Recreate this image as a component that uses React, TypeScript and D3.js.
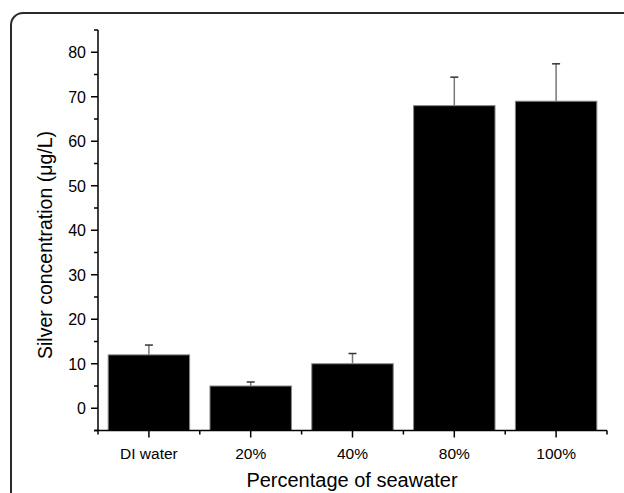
import React from "react";
import * as d3 from "d3";

const categories = ["DI water", "20%", "40%", "80%", "100%"];
const values = [12, 5, 10, 68, 69];
const errors = [2.2, 0.9, 2.3, 6.4, 8.4];
const yTicks = [0, 10, 20, 30, 40, 50, 60, 70, 80];
const yMinorTicks = [-5, 5, 15, 25, 35, 45, 55, 65, 75, 85];

export default function App() {
  const W = 624, H = 493;
  const left = 98, right = 607, top = 30, bottom = 430.5;
  const x = d3.scaleBand<string>().domain(categories).range([left, right]).paddingInner(0.2).paddingOuter(0.1);
  const y = d3.scaleLinear().domain([-5, 85]).range([bottom, top]);
  const font = "Liberation Sans, Arial, sans-serif";
  const boundaries = categories.map((c) => (x(c) as number) - x.step() * x.paddingInner() / 2);
  boundaries.push(right);
  return (
    <svg width={W} height={H} style={{ position: "absolute", left: 0, top: 0 }}>
      <rect x={0} y={0} width={W} height={H} fill="#fff" />
      <rect x={11} y={13} width={W + 20} height={H + 20} rx={12} ry={12} fill="none" stroke="#2a2a2a" strokeWidth={2} />
      {categories.map((c, i) => {
        const bx = x(c) as number;
        const bw = x.bandwidth();
        const cx = bx + bw / 2;
        return (
          <g key={c}>
            <line x1={cx} x2={cx} y1={y(values[i])} y2={y(values[i] + errors[i])} stroke="#777" strokeWidth={1.5} />
            <line x1={cx - 4} x2={cx + 4} y1={y(values[i] + errors[i])} y2={y(values[i] + errors[i])} stroke="#333" strokeWidth={1.5} />
            <rect x={bx} y={y(values[i])} width={bw} height={y(-5) - y(values[i])} fill="#000" stroke="#888" strokeWidth={1} />
          </g>
        );
      })}
      {/* y axis */}
      <line x1={left} x2={left} y1={top} y2={bottom} stroke="#000" strokeWidth={1.5} />
      {yTicks.map((t) => (
        <g key={t}>
          <line x1={left - 7} x2={left} y1={y(t)} y2={y(t)} stroke="#000" strokeWidth={1.5} />
          <text x={left - 12} y={y(t)} dy="0.36em" textAnchor="end" fontFamily={font} fontSize={16} fill="#000">{t}</text>
        </g>
      ))}
      {yMinorTicks.map((t) => (
        <line key={t} x1={left - 4} x2={left} y1={y(t)} y2={y(t)} stroke="#000" strokeWidth={1.5} />
      ))}
      {/* x axis */}
      <line x1={left - 4} x2={right} y1={bottom} y2={bottom} stroke="#000" strokeWidth={1.5} />
      {categories.map((c) => {
        const cx = (x(c) as number) + x.bandwidth() / 2;
        return (
          <g key={c}>
            <line x1={cx} x2={cx} y1={bottom} y2={bottom + 7} stroke="#000" strokeWidth={1.5} />
            <text x={cx} y={459} textAnchor="middle" fontFamily={font} fontSize={15.5} fill="#000">{c}</text>
          </g>
        );
      })}
      {boundaries.map((b, i) => (
        <line key={i} x1={b} x2={b} y1={bottom} y2={bottom + 4} stroke="#000" strokeWidth={1.5} />
      ))}
      <text x={352} y={487} textAnchor="middle" fontFamily={font} fontSize={20} fill="#000">Percentage of seawater</text>
      <text transform={`translate(52,245) rotate(-90)`} textAnchor="middle" fontFamily={font} fontSize={19.5} fill="#000">Silver concentration (μg/L)</text>
    </svg>
  );
}
